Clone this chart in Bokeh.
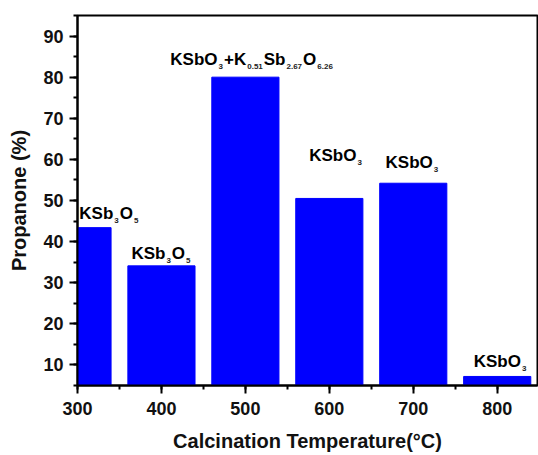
import re
from bokeh.plotting import figure
from bokeh.models import ColumnDataSource, Range1d, SingleIntervalTicker
from bokeh.core.properties import value
from bokeh.embed import file_html
from bokeh.resources import INLINE

# ---- data ----
temperatures = [300, 400, 500, 600, 700, 800]
propanone = [43.4, 34.1, 80.0, 50.5, 54.2, 7.2]
phases = ["KSb3O5", "KSb3O5", "KSbO3+K0.51Sb2.67O6.26", "KSbO3", "KSbO3", "KSbO3"]
label_x = [338, 400, 508, 608, 699, 804]
label_y = [46.8, 37.2, 84.4, 60.9, 59.3, 10.8]

FONT = "Liberation Sans"
MAIN_PX = 17
SUB_PX = 8
SUB_DROP = 7

# Arial/Liberation Sans Bold advance widths (per 1000 em)
W = {"K": 722, "S": 667, "b": 611, "O": 778, "+": 584, ".": 278}
for d in "0123456789":
    W[d] = 556


def text_width(s, px):
    return sum(W.get(c, 600) for c in s) * px / 1000.0


def segments(formula):
    out = []
    for m in re.finditer(r"[0-9.]+|[^0-9.]+", formula):
        t = m.group(0)
        out.append((t, t[0].isdigit() or t[0] == "."))
    return out


main = dict(x=[], y=[], text=[], xo=[])
sub = dict(x=[], y=[], text=[], xo=[])
for lx, ly, f in zip(label_x, label_y, phases):
    segs = segments(f)
    widths = [text_width(t, SUB_PX if s else MAIN_PX) + (2.0 if s else 0) for t, s in segs]
    total = sum(widths)
    cur = -total / 2.0
    for (t, s), w in zip(segs, widths):
        tgt = sub if s else main
        tgt["x"].append(lx)
        tgt["y"].append(ly)
        tgt["text"].append(t)
        tgt["xo"].append(cur + (1.0 if s else 0))
        cur += w

p = figure(width=538, height=455, output_backend="svg", toolbar_location=None,
           x_range=Range1d(300, 848), y_range=Range1d(5, 95),
           min_border_left=77, min_border_right=1, min_border_top=15, min_border_bottom=70)

src = ColumnDataSource(dict(x=temperatures, top=propanone))
p.vbar(x="x", top="top", bottom=0, width=80, source=src,
       fill_color="#0000FF", line_color="#0000FF")

p.text(x="x", y="y", text="text", x_offset="xo", source=ColumnDataSource(main),
       text_font=value(FONT), text_font_style="bold", text_font_size=f"{MAIN_PX}px",
       text_color="#000000", text_align="left", text_baseline="alphabetic")
p.text(x="x", y="y", text="text", x_offset="xo", y_offset=SUB_DROP, source=ColumnDataSource(sub),
       text_font=value(FONT), text_font_style="bold", text_font_size=f"{SUB_PX}px",
       text_color="#222222", text_align="left", text_baseline="alphabetic")

p.xgrid.visible = False
p.ygrid.visible = False
p.background_fill_color = "white"
p.border_fill_color = "white"
p.outline_line_color = "black"
p.outline_line_width = 2

p.xaxis.ticker = SingleIntervalTicker(interval=100, num_minor_ticks=2)
p.yaxis.ticker = SingleIntervalTicker(interval=10, num_minor_ticks=2)

for ax in (p.xaxis[0], p.yaxis[0]):
    ax.axis_line_width = 2
    ax.axis_line_color = "black"
    ax.major_tick_line_width = 2
    ax.minor_tick_line_width = 2
    ax.major_tick_in = 0
    ax.major_tick_out = 8
    ax.minor_tick_in = 0
    ax.minor_tick_out = 4
    ax.major_label_text_font = FONT
    ax.major_label_text_font_style = "bold"
    ax.major_label_text_font_size = "18px"
    ax.major_label_text_color = "#111111"
    ax.axis_label_text_font = FONT
    ax.axis_label_text_font_style = "bold"
    ax.axis_label_text_font_size = "20px"
    ax.axis_label_text_color = "#111111"

p.xaxis.axis_label = "Calcination Temperature(°C)"
p.yaxis.axis_label = "Propanone (%)"
p.xaxis.major_label_standoff = 8
p.yaxis.major_label_standoff = 6
p.xaxis.axis_label_standoff = 12
p.yaxis.axis_label_standoff = 10

open("out.html", "w").write(file_html(p, INLINE))
